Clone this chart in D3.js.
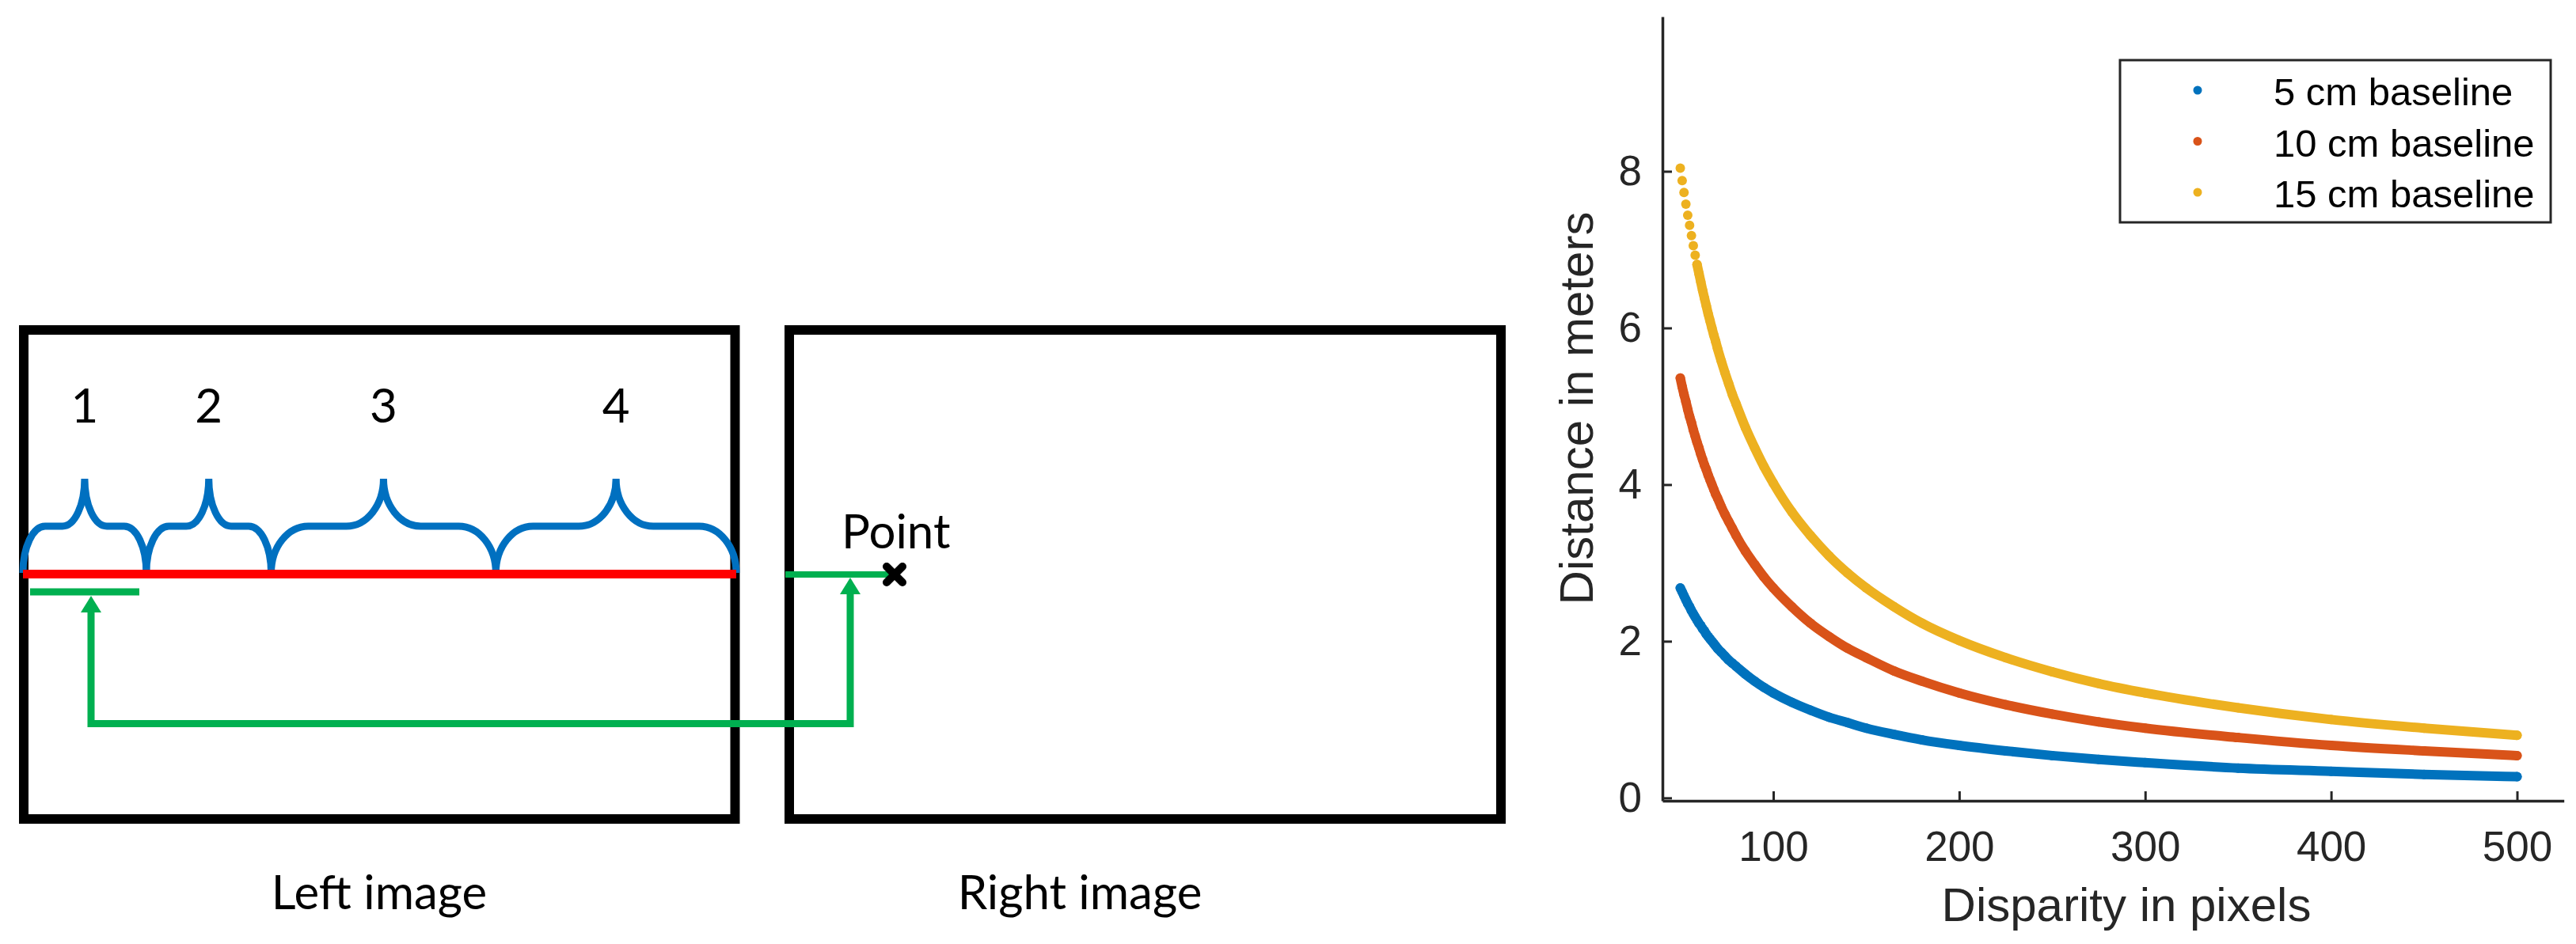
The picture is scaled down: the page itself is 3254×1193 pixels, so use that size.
<!DOCTYPE html>
<html>
<head>
<meta charset="utf-8">
<script src="https://cdn.jsdelivr.net/npm/d3@7"></script>
<style>
  body { margin: 0; background: #fff; }
  svg { display: block; }
  .chart text { font-family: "Liberation Sans", Arial, Helvetica, sans-serif; fill: #262626; }
  .diagram text { font-family: Lato, "Open Sans", sans-serif; fill: #000; }
</style>
</head>
<body>
<svg id="fig" width="3254" height="1193"></svg>
<script>
// ---- data ----
const disparity = [50, 51, 52, 53, 54, 55, 56, 57, 58, 59, 60, 61, 62, 63, 64, 65, 66, 67, 68, 69, 70,
  72, 74, 76, 78, 80, 85, 90, 95, 100, 110, 120, 130, 140, 150, 165, 180, 200, 225, 250, 275, 300, 350, 400, 450, 500];

const baseline5cm = [2.68, 2.63, 2.58, 2.53, 2.48, 2.44, 2.39, 2.35, 2.31, 2.27, 2.23, 2.20, 2.16, 2.13, 2.09, 2.06, 2.03, 2.00, 1.97, 1.94, 1.91,
  1.86, 1.81, 1.76, 1.72, 1.68, 1.58, 1.49, 1.41, 1.34, 1.22, 1.12, 1.03, 0.96, 0.89, 0.81, 0.74, 0.67, 0.60, 0.54, 0.49, 0.45, 0.38, 0.34, 0.30, 0.27];

const baseline10cm = [5.36, 5.25, 5.15, 5.06, 4.96, 4.87, 4.79, 4.70, 4.62, 4.54, 4.47, 4.39, 4.32, 4.25, 4.19, 4.12, 4.06, 4.00, 3.94, 3.88, 3.83,
  3.72, 3.62, 3.53, 3.44, 3.35, 3.15, 2.98, 2.82, 2.68, 2.44, 2.23, 2.06, 1.91, 1.79, 1.62, 1.49, 1.34, 1.19, 1.07, 0.97, 0.89, 0.77, 0.67, 0.60, 0.54];

const baseline15cm = [8.04, 7.88, 7.73, 7.58, 7.44, 7.31, 7.18, 7.05, 6.93, 6.81, 6.70, 6.59, 6.48, 6.38, 6.28, 6.18, 6.09, 6.00, 5.91, 5.83, 5.74,
  5.58, 5.43, 5.29, 5.15, 5.03, 4.73, 4.47, 4.23, 4.02, 3.65, 3.35, 3.09, 2.87, 2.68, 2.44, 2.23, 2.01, 1.79, 1.61, 1.46, 1.34, 1.15, 1.00, 0.89, 0.80];

const seriesNames = ["5 cm baseline", "10 cm baseline", "15 cm baseline"];
const seriesValues = [baseline5cm, baseline10cm, baseline15cm];
const seriesColors = ["#0072BD", "#D95319", "#EDB120"];

const xTicks = [100, 200, 300, 400, 500];
const yTicks = [0, 2, 4, 6, 8];

const segmentLabels = ["1", "2", "3", "4"];
const imageLabels = ["Left image", "Right image"];

const svg = d3.select("#fig");

// ---- left: stereo diagram ----
const diagram = svg.append("g").attr("class", "diagram");

const leftBox = { x0: 30, x1: 928.5, y0: 417, y1: 1035 };
const rightBox = { x0: 997, x1: 1896, y0: 417, y1: 1035 };

[leftBox, rightBox].forEach(b => {
    diagram.append("rect")
        .attr("x", b.x0).attr("y", b.y0)
        .attr("width", b.x1 - b.x0).attr("height", b.y1 - b.y0)
        .attr("fill", "none")
        .attr("stroke", "#000")
        .attr("stroke-width", 12);
});

// scanline position inside the left image, as fraction of its width
const imgX = d3.scaleLinear().domain([0, 1]).range([29, 930]);
const braceEdges = [0, 0.173, 0.348, 0.663, 1];
const yEnd = 724, yFlat = 665, yPeak = 605;

function bracePath(xa, xb) {
    const xm = (xa + xb) / 2;
    const w = Math.min(47, (xm - xa) * 0.36);
    const k = 0.552;
    const p = d3.path();
    p.moveTo(xa, yEnd);
    p.bezierCurveTo(xa, yEnd - k * (yEnd - yFlat), xa + w - k * w, yFlat, xa + w, yFlat);
    p.lineTo(xm - w, yFlat);
    p.bezierCurveTo(xm - w + k * w, yFlat, xm, yPeak + k * (yFlat - yPeak), xm, yPeak);
    p.bezierCurveTo(xm, yPeak + k * (yFlat - yPeak), xm + w - k * w, yFlat, xm + w, yFlat);
    p.lineTo(xb - w, yFlat);
    p.bezierCurveTo(xb - w + k * w, yFlat, xb, yEnd - k * (yEnd - yFlat), xb, yEnd);
    return p.toString();
}

segmentLabels.forEach((label, i) => {
    const xa = imgX(braceEdges[i]), xb = imgX(braceEdges[i + 1]);
    diagram.append("path")
        .attr("d", bracePath(xa, xb))
        .attr("fill", "none")
        .attr("stroke", "#0070C0")
        .attr("stroke-width", 9);
    diagram.append("text")
        .attr("x", (xa + xb) / 2)
        .attr("y", 534)
        .attr("text-anchor", "middle")
        .attr("font-size", 60)
        .text(label);
});

// red scanline
diagram.append("line")
    .attr("x1", imgX(0)).attr("x2", imgX(1))
    .attr("y1", 725.5).attr("y2", 725.5)
    .attr("stroke", "#FF0000")
    .attr("stroke-width", 11);

const green = "#00B050";

// matched window in left image
diagram.append("line")
    .attr("x1", 38).attr("x2", 176)
    .attr("y1", 748).attr("y2", 748)
    .attr("stroke", green).attr("stroke-width", 9);

// point row in right image
diagram.append("line")
    .attr("x1", 992).attr("x2", 1131)
    .attr("y1", 726).attr("y2", 726)
    .attr("stroke", green).attr("stroke-width", 8);

// connector with two upward arrows
diagram.append("path")
    .attr("d", "M115,770V914.6H1074V748")
    .attr("fill", "none")
    .attr("stroke", green)
    .attr("stroke-width", 9);

[[115, 753], [1074, 730]].forEach(([tx, ty]) => {
    diagram.append("path")
        .attr("d", `M${tx},${ty}L${tx + 13},${ty + 21}L${tx - 13},${ty + 21}Z`)
        .attr("fill", green);
});

// point marker
const mx = 1130, my = 726, ms = 10;
diagram.append("path")
    .attr("d", `M${mx - ms},${my - ms}L${mx + ms},${my + ms}M${mx + ms},${my - ms}L${mx - ms},${my + ms}`)
    .attr("stroke", "#000")
    .attr("stroke-width", 10)
    .attr("stroke-linecap", "round");

diagram.append("text")
    .attr("x", 1063).attr("y", 693)
    .attr("font-size", 60)
    .text("Point");

diagram.selectAll("text.imgLabel")
    .data(imageLabels)
    .join("text")
    .attr("class", "imgLabel")
    .attr("x", (d, i) => i === 0 ? 479 : 1364)
    .attr("y", 1149)
    .attr("text-anchor", "middle")
    .attr("font-size", 60)
    .text(d => d);

// ---- right: distance vs disparity ----
const chart = svg.append("g").attr("class", "chart");

const x = d3.scaleLinear().domain([40.4, 525.2]).range([2100, 3238.7]);
const y = d3.scaleLinear().domain([-0.037, 9.975]).range([1012, 21]);
const axisColor = "#262626";

const xAxisG = chart.append("g")
    .attr("transform", `translate(0,${y.range()[0]})`)
    .call(d3.axisBottom(x).tickValues(xTicks).tickSizeInner(-12).tickSizeOuter(0).tickPadding(38));

const yAxisG = chart.append("g")
    .attr("transform", `translate(${x.range()[0]},0)`)
    .call(d3.axisLeft(y).tickValues(yTicks).tickSizeInner(-12).tickSizeOuter(0).tickPadding(26));

[xAxisG, yAxisG].forEach(g => {
    g.attr("font-family", null).attr("font-size", null);
    g.select(".domain").attr("stroke", axisColor).attr("stroke-width", 3.5);
    g.selectAll(".tick line").attr("stroke", axisColor).attr("stroke-width", 3);
    g.selectAll(".tick text").attr("font-size", 53).attr("fill", axisColor);
});

const r = 6;

seriesValues.forEach((vals, si) => {
    const pts = disparity.map((d, i) => [x(d), y(vals[i]), d]);
    const color = seriesColors[si];

    // neighbouring markers that overlap merge into a solid band
    const runs = [];
    let run = [pts[0]];
    for (let i = 1; i < pts.length; i++) {
        const a = pts[i - 1], b = pts[i];
        const gap = Math.hypot(b[0] - a[0], b[1] - a[1]) / (b[2] - a[2]);
        if (gap < 2 * r) run.push(b);
        else { runs.push(run); run = [b]; }
    }
    runs.push(run);

    const line = d3.line().x(p => p[0]).y(p => p[1]).curve(d3.curveMonotoneX);
    runs.filter(rn => rn.length > 1).forEach(rn => {
        chart.append("path")
            .attr("d", line(rn))
            .attr("fill", "none")
            .attr("stroke", color)
            .attr("stroke-width", 2 * r)
            .attr("stroke-linecap", "round");
    });

    chart.append("g")
        .selectAll("circle")
        .data(pts)
        .join("circle")
        .attr("cx", p => p[0])
        .attr("cy", p => p[1])
        .attr("r", r)
        .attr("fill", color);
});

// axis labels
chart.append("text")
    .attr("x", 2686).attr("y", 1164)
    .attr("text-anchor", "middle")
    .attr("font-size", 60)
    .text("Disparity in pixels");

chart.append("text")
    .attr("transform", "translate(2012,516) rotate(-90)")
    .attr("text-anchor", "middle")
    .attr("font-size", 60)
    .text("Distance in meters");

// legend
const legend = chart.append("g");
legend.append("rect")
    .attr("x", 2678).attr("y", 76)
    .attr("width", 3222 - 2678).attr("height", 281 - 76)
    .attr("fill", "#fff")
    .attr("stroke", axisColor)
    .attr("stroke-width", 3);

const legendY = d3.scalePoint().domain(seriesNames).range([114, 243]);

legend.selectAll("circle")
    .data(seriesNames)
    .join("circle")
    .attr("cx", 2776)
    .attr("cy", d => legendY(d))
    .attr("r", 5.5)
    .attr("fill", (d, i) => seriesColors[i]);

legend.selectAll("text")
    .data(seriesNames)
    .join("text")
    .attr("x", 2872)
    .attr("y", d => legendY(d) + 19)
    .attr("font-size", 49)
    .style("fill", "#000")
    .text(d => d);
</script>
</body>
</html>
